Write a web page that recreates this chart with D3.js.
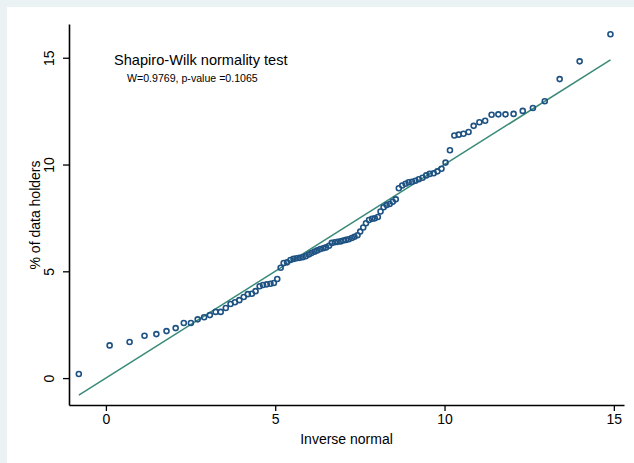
<!DOCTYPE html>
<html>
<head>
<meta charset="utf-8">
<script src="https://cdn.jsdelivr.net/npm/d3@7"></script>
<style>
  html, body { margin: 0; padding: 0; background: #ffffff; }
  svg { display: block; font-family: "Liberation Sans", Arial, Helvetica, sans-serif; }
</style>
</head>
<body>
<svg id="chart" width="634" height="463"></svg>
<script>
// Inverse normal quantiles (x)
const inverseNormal = [
  -0.80, 0.11, 0.70, 1.14, 1.49, 1.79, 2.06, 2.30, 2.51, 2.71,
  2.90, 3.07, 3.24, 3.39, 3.54, 3.68, 3.81, 3.94, 4.07, 4.19,
  4.31, 4.42, 4.54, 4.64, 4.75, 4.86, 4.96, 5.06, 5.16, 5.25,
  5.35, 5.45, 5.54, 5.63, 5.72, 5.81, 5.90, 5.99, 6.07, 6.16,
  6.24, 6.33, 6.42, 6.50, 6.59, 6.67, 6.76, 6.84, 6.93, 7.01,
  7.09, 7.17, 7.26, 7.34, 7.43, 7.51, 7.60, 7.68, 7.77, 7.86,
  7.94, 8.03, 8.11, 8.20, 8.29, 8.38, 8.47, 8.56, 8.65, 8.75,
  8.85, 8.94, 9.04, 9.14, 9.24, 9.35, 9.46, 9.56, 9.68, 9.79,
  9.91, 10.03, 10.16, 10.29, 10.42, 10.56, 10.71, 10.86, 11.03, 11.20,
  11.39, 11.59, 11.80, 12.04, 12.31, 12.61, 12.96, 13.40, 13.99, 14.90
];
// % of data holders (sorted observations)
const dataHolders = [
  0.19, 1.53, 1.69, 1.98, 2.06, 2.20, 2.34, 2.58, 2.58, 2.75,
  2.85, 2.95, 3.10, 3.10, 3.28, 3.47, 3.55, 3.65, 3.80, 3.93,
  3.95, 4.07, 4.30, 4.36, 4.39, 4.42, 4.45, 4.64, 5.17, 5.39,
  5.42, 5.53, 5.58, 5.61, 5.63, 5.66, 5.71, 5.79, 5.85, 5.92,
  5.98, 6.04, 6.08, 6.12, 6.20, 6.33, 6.36, 6.38, 6.40, 6.44,
  6.47, 6.50, 6.56, 6.62, 6.69, 6.86, 7.05, 7.25, 7.40, 7.46,
  7.48, 7.54, 7.80, 8.00, 8.10, 8.15, 8.26, 8.37, 8.89, 9.02,
  9.10, 9.17, 9.19, 9.24, 9.31, 9.38, 9.49, 9.56, 9.59, 9.68,
  9.80, 10.09, 10.67, 11.36, 11.40, 11.44, 11.52, 11.81, 11.98, 12.05,
  12.33, 12.35, 12.35, 12.37, 12.51, 12.65, 12.96, 14.00, 14.83, 16.10
];
const xTicks = [0, 5, 10, 15];
const yTicks = [0, 5, 10, 15];
const titleText = "Shapiro-Wilk normality test";
const subtitleText = "W=0.9769, p-value =0.1065";
const xTitle = "Inverse normal";
const yTitle = "% of data holders";

const svg = d3.select("#chart");
const W = 634, H = 463;

// background frame (light band at top/left like the reference)
svg.append("rect").attr("x", 0).attr("y", 0).attr("width", W).attr("height", H).attr("fill", "#eaf2f3");
svg.append("rect").attr("x", 7).attr("y", 7).attr("width", W - 7).attr("height", H - 7).attr("fill", "#ffffff");

const x = d3.scaleLinear().domain([-1.09, 15.30]).range([69, 624]);
const y = d3.scaleLinear().domain([-1.26, 16.58]).range([405, 24]);

const pts = inverseNormal.map((v, i) => ({ x: v, y: dataHolders[i] }));

// reference line y = x across the range of the inverse normal values
const xr = d3.extent(inverseNormal);
svg.append("line")
  .attr("x1", x(xr[0])).attr("y1", y(xr[0]))
  .attr("x2", x(xr[1])).attr("y2", y(xr[1]))
  .attr("stroke", "#3a8a78").attr("stroke-width", 1.5);

// points
svg.append("g").selectAll("circle").data(pts).enter().append("circle")
  .attr("cx", d => x(d.x)).attr("cy", d => y(d.y)).attr("r", 2.5)
  .attr("fill", "none").attr("stroke", "#1d5283").attr("stroke-width", 1.6);

// x axis
const gx = svg.append("g").attr("transform", "translate(0,405)")
  .call(d3.axisBottom(x).tickValues(xTicks).tickSize(6).tickSizeOuter(0).tickPadding(3));
gx.select(".domain").attr("stroke", "#000").attr("stroke-width", 1.6);
gx.selectAll(".tick line").attr("stroke", "#000").attr("stroke-width", 1.3);
gx.selectAll(".tick text").attr("font-size", 14).attr("fill", "#000")
  .attr("font-family", "Liberation Sans, Arial, sans-serif");

// y axis
const gy = svg.append("g").attr("transform", "translate(69,0)")
  .call(d3.axisLeft(y).tickValues(yTicks).tickSize(6).tickSizeOuter(0));
gy.select(".domain").attr("stroke", "#000").attr("stroke-width", 1.6);
gy.selectAll(".tick line").attr("stroke", "#000").attr("stroke-width", 1.3);
gy.selectAll(".tick text")
  .attr("x", null).attr("dy", null)
  .attr("transform", "translate(-15,0) rotate(-90)")
  .attr("text-anchor", "middle")
  .attr("font-size", 14).attr("fill", "#000")
  .attr("font-family", "Liberation Sans, Arial, sans-serif");

// axis titles
svg.append("text").attr("x", 346.5).attr("y", 444).attr("text-anchor", "middle")
  .attr("font-size", 14).attr("fill", "#000").text(xTitle);
svg.append("text").attr("transform", "translate(39.5,215) rotate(-90)").attr("text-anchor", "middle")
  .attr("font-size", 14).attr("fill", "#000").text(yTitle);

// annotation
svg.append("text").attr("x", 114).attr("y", 64.5).attr("font-size", 14.6).attr("fill", "#000").text(titleText);
svg.append("text").attr("x", 127).attr("y", 82).attr("font-size", 10.6).attr("fill", "#000").text(subtitleText);
</script>
</body>
</html>
